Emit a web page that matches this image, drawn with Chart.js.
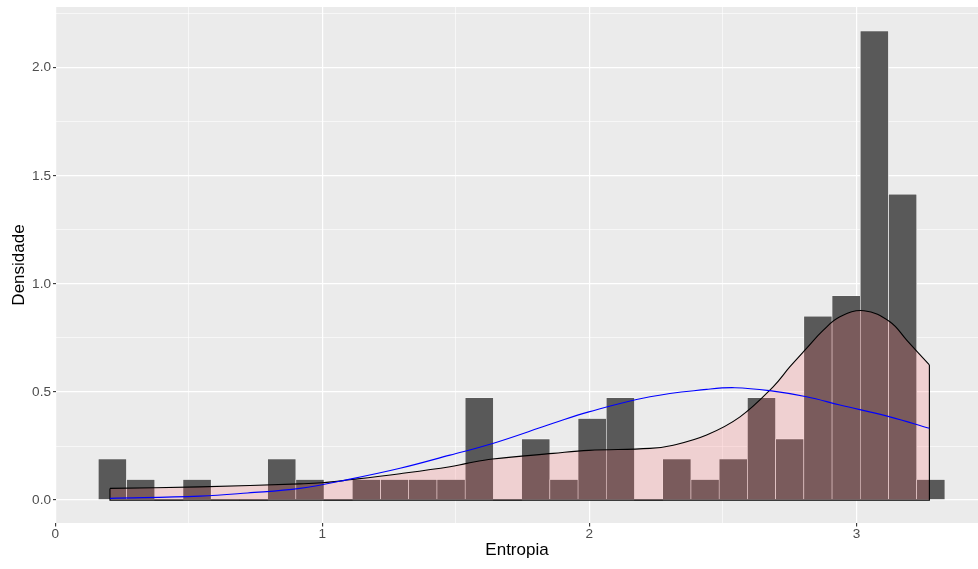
<!DOCTYPE html>
<html>
<head>
<meta charset="utf-8">
<script src="https://cdn.jsdelivr.net/npm/chart.js@4/dist/chart.umd.min.js"></script>
<style>
  html, body { margin: 0; padding: 0; background: #ffffff; overflow: hidden; }
  #wrap { width: 978px; height: 569px; position: relative; }
  canvas { display: block; }
</style>
</head>
<body>
<div id="wrap"><canvas id="c" width="978" height="569" style="width:978px;height:569px"></canvas></div>
<script>
// ---- data ----
const binCenters = [0.2142, 0.3199, 0.4255, 0.5312, 0.6368, 0.7425, 0.8482, 0.9538, 1.0595, 1.1651,
                    1.2708, 1.3765, 1.4821, 1.5878, 1.6934, 1.7991, 1.9048, 2.0104, 2.1161, 2.2217,
                    2.3274, 2.4331, 2.5387, 2.6444, 2.7500, 2.8557, 2.9614, 3.0670, 3.1727, 3.2783];
const binDensity = [0.19, 0.095, 0, 0.095, 0, 0, 0.19, 0.095, 0, 0.095,
                    0.095, 0.095, 0.095, 0.473, 0, 0.283, 0.095, 0.378, 0.473, 0,
                    0.19, 0.095, 0.19, 0.473, 0.283, 0.85, 0.945, 2.17, 1.415, 0.095];

const densX = [0.205, 0.542, 0.916, 0.999, 1.104, 1.291, 1.478, 1.541, 1.638, 1.864, 1.998, 2.227,
               2.314, 2.439, 2.564, 2.688, 2.751, 2.813, 2.876, 2.938, 3.028, 3.125, 3.188, 3.273];
const densY = [0.054, 0.061, 0.075, 0.080, 0.094, 0.122, 0.154, 0.170, 0.190, 0.216, 0.230, 0.239,
               0.254, 0.301, 0.385, 0.524, 0.617, 0.702, 0.786, 0.848, 0.876, 0.825, 0.740, 0.625];

const normX = [0.205, 0.542, 0.720, 0.916, 1.104, 1.291, 1.478, 1.638, 1.864, 1.998,
               2.227, 2.439, 2.545, 2.688, 2.813, 2.938, 3.125, 3.273];
const normY = [0.008, 0.0185, 0.033, 0.054, 0.097, 0.147, 0.208, 0.262, 0.355, 0.408,
               0.478, 0.512, 0.520, 0.504, 0.478, 0.440, 0.385, 0.332];

const xMajor = [0, 1, 2, 3];
const xMinor = [0.5, 1.5, 2.5];
const yMajor = [0, 0.5, 1, 1.5, 2];
const yMinor = [0.25, 0.75, 1.25, 1.75, 2.25];
const xTitle = 'Entropia';
const yTitle = 'Densidade';

// ---- build datasets ----
const histData = binCenters.map((x, i) => ({ x: x, y: binDensity[i] }));
const densData = densX.map((x, i) => ({ x: x, y: densY[i] }));
const normData = normX.map((x, i) => ({ x: x, y: normY[i] }));
const first = densData[0], last = densData[densData.length - 1];
const edgeData = [{ x: first.x, y: first.y }, { x: first.x, y: 0 }, { x: last.x, y: 0 }, { x: last.x, y: last.y }];

const panelBg = {
  id: 'panelBg',
  beforeDraw(chart) {
    const { ctx, chartArea: a } = chart;
    ctx.save();
    ctx.fillStyle = '#EBEBEB';
    ctx.fillRect(a.left, a.top, a.right - a.left, a.bottom - a.top);
    ctx.restore();
  }
};

const isIn = (arr, v) => arr.some(m => Math.abs(m - v) < 1e-9);

new Chart(document.getElementById('c'), {
  type: 'bar',
  data: {
    datasets: [
      {
        type: 'bar', data: histData, order: 4,
        backgroundColor: '#595959', borderColor: '#FFFFFF',
        borderWidth: ctx => (ctx.raw && ctx.raw.y > 0 ? 0.6 : 0),
        borderSkipped: false, barPercentage: 1, categoryPercentage: 1
      },
      {
        type: 'line', data: densData, order: 3,
        borderColor: '#000000', borderWidth: 1.1,
        backgroundColor: 'rgba(255,102,107,0.2)', fill: 'origin',
        pointRadius: 0, tension: 0.4
      },
      {
        type: 'line', data: edgeData, order: 2,
        borderColor: '#000000', borderWidth: 1.1, fill: false,
        pointRadius: 0, tension: 0
      },
      {
        type: 'line', data: normData, order: 1,
        borderColor: '#0000FF', borderWidth: 1.1, fill: false,
        pointRadius: 0, tension: 0.4
      }
    ]
  },
  options: {
    responsive: false,
    maintainAspectRatio: false,
    animation: false,
    devicePixelRatio: 1,
    layout: { padding: { top: 7, right: 0, left: 0, bottom: 0 } },
    plugins: { legend: { display: false }, tooltip: { enabled: false } },
    scales: {
      x: {
        type: 'linear', min: 0.003, max: 3.455, offset: false,
        afterBuildTicks: s => { s.ticks = [0, 0.5, 1, 1.5, 2, 2.5, 3].map(v => ({ value: v })); },
        afterFit: s => { s.height = 46; s.paddingLeft = 0; s.paddingRight = 0; },
        border: { display: false },
        grid: {
          offset: false,
          color: '#FFFFFF',
          lineWidth: c => (isIn(xMajor, c.tick.value) ? 1.2 : 0.6),
          tickColor: c => (isIn(xMajor, c.tick.value) ? '#333333' : 'rgba(0,0,0,0)'),
          tickLength: 3.5, tickWidth: 1.1, drawTicks: true
        },
        ticks: {
          autoSkip: false, maxRotation: 0, padding: 0,
          color: '#4D4D4D', font: { family: 'Liberation Sans, Arial, sans-serif', size: 13.6 },
          callback: v => (isIn(xMajor, v) ? String(v) : '')
        },
        title: {
          display: true, text: xTitle, color: '#000000',
          font: { family: 'Liberation Sans, Arial, sans-serif', size: 17 },
          padding: { top: 0, bottom: 8 }
        }
      },
      y: {
        type: 'linear', min: -0.106, max: 2.281,
        afterBuildTicks: s => { s.ticks = [0, 0.25, 0.5, 0.75, 1, 1.25, 1.5, 1.75, 2, 2.25].map(v => ({ value: v })); },
        afterFit: s => { s.width = 56; s.paddingTop = 0; s.paddingBottom = 0; },
        border: { display: false },
        grid: {
          color: '#FFFFFF',
          lineWidth: c => (isIn(yMajor, c.tick.value) ? 1.2 : 0.6),
          tickColor: c => (isIn(yMajor, c.tick.value) ? '#333333' : 'rgba(0,0,0,0)'),
          tickLength: 3, tickWidth: 1.1, drawTicks: true
        },
        ticks: {
          autoSkip: false, padding: 2,
          color: '#4D4D4D', font: { family: 'Liberation Sans, Arial, sans-serif', size: 13.6 },
          callback: v => (isIn(yMajor, v) ? v.toFixed(1) : '')
        },
        title: {
          display: true, text: yTitle, color: '#000000',
          font: { family: 'Liberation Sans, Arial, sans-serif', size: 17 },
          padding: { top: 9.5, bottom: 0 }
        }
      }
    }
  },
  plugins: [panelBg]
});
</script>
</body>
</html>
